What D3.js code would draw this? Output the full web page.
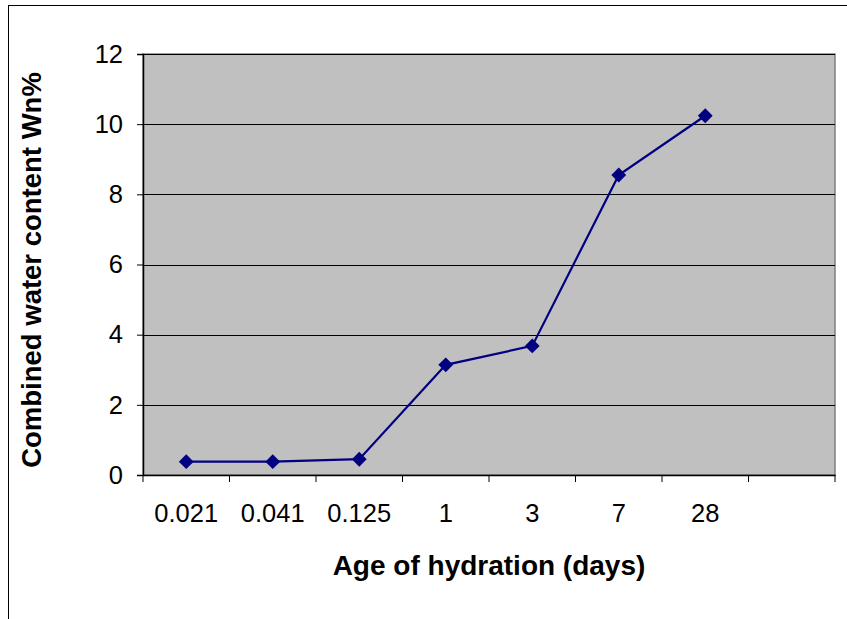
<!DOCTYPE html>
<html>
<head>
<meta charset="utf-8">
<script src="https://cdn.jsdelivr.net/npm/d3@7"></script>
<style>
  body { margin: 0; background: #fff; }
  svg { display: block; font-family: Arial, "Liberation Sans", sans-serif; }
</style>
</head>
<body>
<div id="container"></div>
<script>
'use strict';

const w = 847;
const h = 619;

// Data.
const ages = ['0.021', '0.041', '0.125', '1', '3', '7', '28', ''];
const water = [0.38, 0.38, 0.45, 3.14, 3.68, 8.55, 10.24];
const yTicks = [0, 2, 4, 6, 8, 10, 12];

const plot = {left: 143, right: 835, top: 54, bottom: 475};
const tickFont = 25.5;
const titleFont = 28;

const svg = d3.select('#container')
    .append('svg')
    .attr('width', w)
    .attr('height', h);

// Outer chart frame (runs off the picture on the right and bottom).
svg.append('rect')
    .attr('x', 8.5)
    .attr('y', 5.5)
    .attr('width', 900)
    .attr('height', 700)
    .attr('fill', '#fff')
    .attr('stroke', '#000')
    .attr('stroke-width', 1);

const xScale = d3.scaleBand()
    .domain(ages)
    .range([plot.left, plot.right]);

const yScale = d3.scaleLinear()
    .domain([0, 12])
    .range([plot.bottom, plot.top]);

// Plot area.
svg.append('rect')
    .attr('x', plot.left)
    .attr('y', plot.top)
    .attr('width', plot.right - plot.left)
    .attr('height', plot.bottom - plot.top)
    .attr('fill', '#c0c0c0')
    .attr('stroke', '#808080')
    .attr('stroke-width', 1.5);

// Gridlines.
svg.append('g')
    .selectAll('line')
    .data(yTicks.filter(d => d > 0))
    .enter()
    .append('line')
    .attr('x1', plot.left)
    .attr('x2', plot.right)
    .attr('y1', d => Math.round(yScale(d)) + 0.5)
    .attr('y2', d => Math.round(yScale(d)) + 0.5)
    .attr('stroke', '#000')
    .attr('stroke-width', 1);

// Axes.
const yAxis = d3.axisLeft(yScale)
    .tickValues(yTicks)
    .tickSize(6)
    .tickPadding(14);
const yg = svg.append('g')
    .attr('transform', 'translate(' + plot.left + ', 0)')
    .call(yAxis);
yg.select('.domain').attr('stroke', '#000').attr('stroke-width', 1.5);
yg.selectAll('.tick line').attr('stroke', '#000');
yg.selectAll('.tick text')
    .attr('font-size', tickFont)
    .attr('font-family', 'Arial, "Liberation Sans", sans-serif')
    .attr('fill', '#000');

const xAxis = d3.axisBottom(xScale)
    .tickSize(0)
    .tickPadding(29);
const xg = svg.append('g')
    .attr('transform', 'translate(0, ' + plot.bottom + ')')
    .call(xAxis);
xg.select('.domain').attr('stroke', '#000').attr('stroke-width', 1.5);
xg.selectAll('.tick text')
    .attr('font-size', tickFont)
    .attr('font-family', 'Arial, "Liberation Sans", sans-serif')
    .attr('fill', '#000');

// Category boundary ticks.
const bounds = ages.map(d => xScale(d)).concat([plot.right]);
svg.append('g')
    .selectAll('line')
    .data(bounds)
    .enter()
    .append('line')
    .attr('x1', d => d)
    .attr('x2', d => d)
    .attr('y1', plot.bottom)
    .attr('y2', plot.bottom + 7)
    .attr('stroke', '#000')
    .attr('stroke-width', 1);

// Series line and markers.
const cx = (d, i) => xScale(ages[i]) + xScale.bandwidth() / 2;
const line = d3.line()
    .x(cx)
    .y(d => yScale(d));

svg.append('path')
    .datum(water)
    .attr('d', line)
    .attr('fill', 'none')
    .attr('stroke', '#000080')
    .attr('stroke-width', 2.2);

svg.append('g')
    .selectAll('path')
    .data(water)
    .enter()
    .append('path')
    .attr('d', d3.symbol().type(d3.symbolSquare).size(110))
    .attr('transform', (d, i) => 'translate(' + cx(d, i) + ',' + yScale(d) + ') rotate(45)')
    .attr('fill', '#000080');

// Axis titles.
svg.append('text')
    .attr('x', (plot.left + plot.right) / 2)
    .attr('y', 575)
    .attr('text-anchor', 'middle')
    .attr('font-size', titleFont)
    .attr('font-weight', 'bold')
    .text('Age of hydration (days)');

svg.append('text')
    .attr('transform', 'translate(41, ' + 270 + ') rotate(-90)')
    .attr('text-anchor', 'middle')
    .attr('font-size', titleFont - 0.5)
    .attr('font-weight', 'bold')
    .text('Combined water content Wn%');
</script>
</body>
</html>
